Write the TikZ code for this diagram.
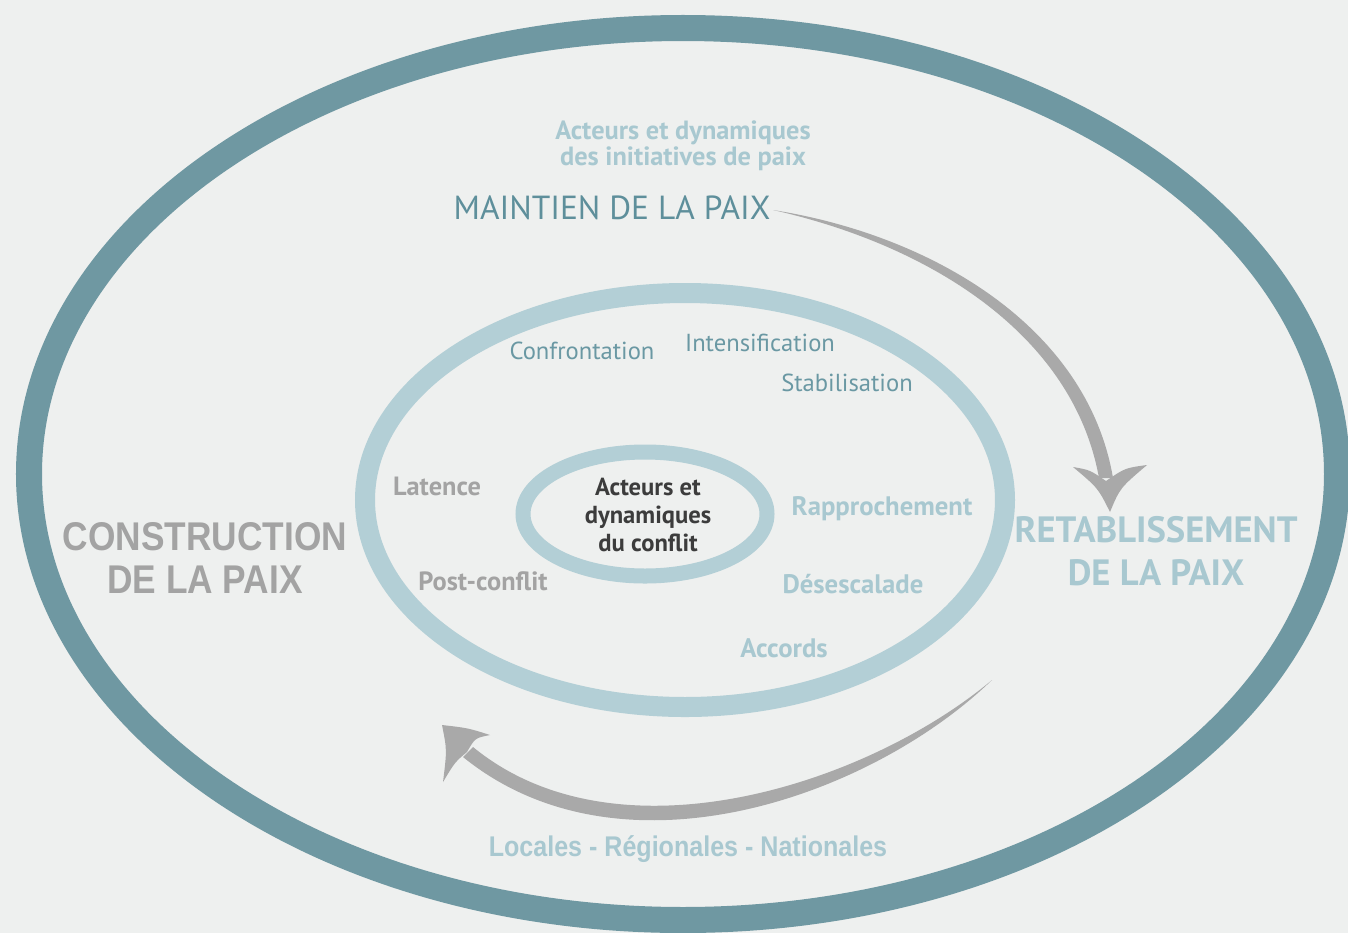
\documentclass[tikz,border=0pt]{standalone}
\usepackage{fontspec}
\setmainfont{PT Sans}
\newfontfamily\arialfont[FakeStretch=0.88]{Liberation Sans}
\usetikzlibrary{positioning}
\definecolor{paper}{HTML}{EEF0EF}
\definecolor{deepteal}{HTML}{6F98A2}
\definecolor{paleteal}{HTML}{B3CFD6}
\definecolor{teal}{HTML}{5E8F9B}
\definecolor{phase}{HTML}{6A98A3}
\definecolor{pale}{HTML}{A8C8D0}
\definecolor{greytxt}{HTML}{A3A3A3}
\definecolor{dark}{HTML}{3C3C3C}
\definecolor{arrowgrey}{HTML}{A9A9A9}
\tikzset{
outer ring/.style={draw=deepteal,line width=.26cm},
mid ring/.style={draw=paleteal,line width=.2cm},
core ring/.style={draw=paleteal,line width=.15cm},
phase/.style={text=phase,font=\fontsize{7}{8}\selectfont,inner sep=0pt},
palephase/.style={text=pale,font=\bfseries\fontsize{7.6}{8}\selectfont,inner sep=0pt},
greyphase/.style={text=greytxt,font=\bfseries\fontsize{7.5}{8}\selectfont,inner sep=0pt},
title/.style={align=center,inner sep=0pt},
sweep/.style={fill=arrowgrey,draw=none}}

\begin{document}
\begin{tikzpicture}[x=.01cm,y=-.01cm]
\useasboundingbox (0,0) rectangle (1348,933);
\clip (0,0) rectangle (1348,933);
\fill[paper] (0,0) rectangle (1348,933);
\draw[outer ring] (683,474) ellipse [x radius=654,y radius=446];
\draw[mid ring] (685,500) ellipse [x radius=320,y radius=207];
\draw[core ring] (645,514) ellipse [x radius=122,y radius=62];

\node[title,text=pale,font=\bfseries\fontsize{7.5}{7.5}\selectfont] (initiatives) at (683,146) {Acteurs et dynamiques\\des initiatives de paix};
\node[title,text=teal,font=\fontsize{9.5}{12}\selectfont] (maintien) at (612,208) {MAINTIEN DE LA PAIX};
\node[title,text=greytxt,font=\arialfont\bfseries\fontsize{11.4}{12.2}\selectfont] (construction) at (205,558) {CONSTRUCTION\\DE LA PAIX};
\node[title,text=pale,font=\bfseries\fontsize{10.4}{12.2}\selectfont] (retablissement) at (1156,551) {RETABLISSEMENT\\DE LA PAIX};
\node[title,text=pale,font=\arialfont\bfseries\fontsize{8.1}{10}\selectfont] (niveaux) at (688,849) {Locales - Régionales - Nationales};
\node[title,text=dark,font=\bfseries\fontsize{7}{8}\selectfont] (conflit) at (648,515) {Acteurs et\\dynamiques\\du conflit};

\node[phase] (confrontation) at (582,351) {Confrontation};
\node[phase] (intensification) at (760,343) {Intensification};
\node[phase] (stabilisation) at (847,383) {Stabilisation};
\node[palephase] (rapprochement) at (882,509) {Rapprochement};
\node[palephase] (desescalade) at (853,584) {Désescalade};
\node[palephase] (accords) at (784,648) {Accords};
\node[greyphase] (postconflit) at (483,581) {Post-conflit};
\node[greyphase] (latence) at (437,486) {Latence};

\fill[sweep] (773,210) .. controls (931,235) and (1087,326) .. (1113,478)
  -- (1099,478) .. controls (1073,334) and (929,245) .. (773,210) -- cycle;
\fill[sweep] (1110,512) .. controls (1098,488) .. (1073,467)
  .. controls (1090,470) .. (1106,481) .. controls (1125,468) .. (1147,465)
  .. controls (1120,488) .. (1110,512) -- cycle;

\fill[sweep] (992,680) .. controls (872,796) and (622,886) .. (463,757)
  -- (473,747) .. controls (618,866) and (868,784) .. (992,680) -- cycle;
\fill[sweep] (442,725) .. controls (468,728) .. (490,735)
  .. controls (475,738) .. (467,752) .. controls (455,762) .. (443,782)
  .. controls (447,750) .. (442,725) -- cycle;
\end{tikzpicture}
\end{document}
